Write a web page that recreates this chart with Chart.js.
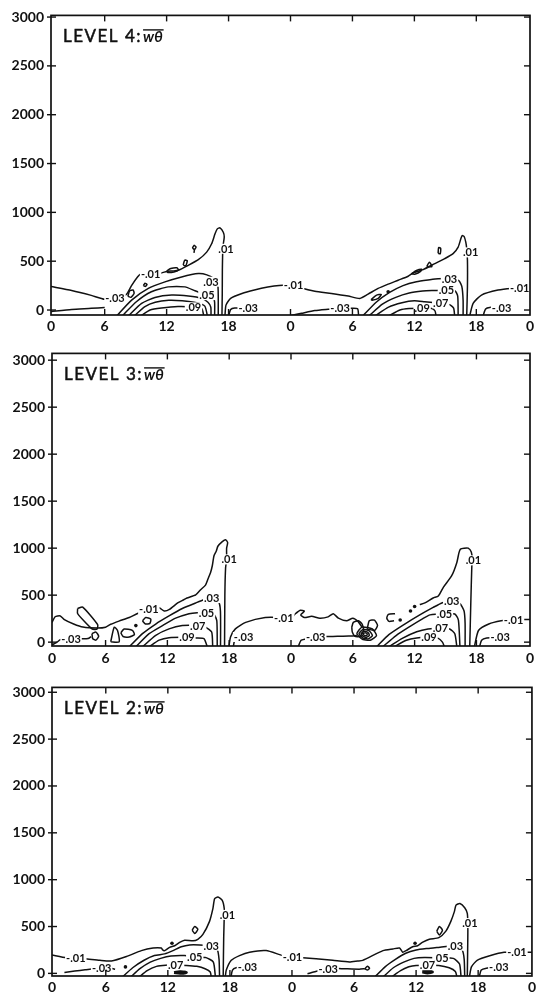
<!DOCTYPE html>
<html><head><meta charset="utf-8">
<script src="https://cdn.jsdelivr.net/npm/chart.js@4.4.1/dist/chart.umd.min.js"></script>
<style>
html,body{margin:0;padding:0;background:#fff;}
body{position:relative;width:539px;height:992px;overflow:hidden;}
canvas{position:absolute;left:0;}
</style></head><body>
<canvas id="lv4" width="539" height="338" style="top:0px"></canvas>
<canvas id="lv3" width="539" height="334" style="top:338px"></canvas>
<canvas id="lv2" width="539" height="320" style="top:672px"></canvas>
<script>
// ---------- axis ticks ----------
const xTickValues = [0.8, 6, 12, 18, 24, 30, 36, 42, 47.2];
const xTickLabels = ['0','6','12','18','0','6','12','18','0'];
const yTickValues = [0, 500, 1000, 1500, 2000, 2500, 3000];

// ---------- LEVEL 4 contours [hour, metres] ----------
const level4Lines = [
 [[0.8,-17],[2.8,6],[4.7,17],[6.0,27]],
 [[0.8,240],[2.8,200],[4.7,150],[6.0,110],[7.0,122],[8.1,160],[8.6,250],[9.2,340],[9.5,368],[10.5,375],[11.5,380],[12.0,395],[12.6,400],[13.13,407],[14.1,458],[15.07,515],[15.88,593],[16.36,678],[16.69,780],[16.91,831],[17.17,841],[17.49,797],[17.58,746],[17.45,644],[17.4,407],[17.39,170],[17.36,-60]],
 [[7.16,-60],[8.61,102],[10.23,221],[11.84,288],[13.45,339],[15.07,373],[15.9,360],[16.6,320],[16.95,260],[17.0,150],[17.0,-60]],
 [[7.71,-60],[9.07,85],[10.52,187],[12.16,237],[13.78,237],[14.75,197],[15.9,153],[16.5,130],[16.65,80],[16.65,-60]],
 [[8.29,-60],[9.58,68],[10.87,129],[12.49,153],[14.1,143],[15.4,119],[16.0,80],[16.28,30],[16.3,-60]],
 [[8.87,-60],[9.9,35],[10.9,80],[12.2,100],[13.5,95],[14.9,75],[15.7,40],[15.95,-60]],
 [[9.5,-60],[10.4,0],[11.5,20],[13.1,35],[14.6,30],[15.4,15],[15.6,-60]],
 [[17.65,-60],[17.75,50],[18.2,120],[19.3,170],[20.5,205],[21.8,235],[22.9,252],[24.3,258],[25.07,225],[26.36,193],[27.97,170],[29.59,143],[30.72,119],[31.52,163],[32.49,221],[33.46,265],[34.43,305],[35.4,346],[35.88,380],[36.85,414],[37.98,475],[38.94,526],[39.75,577],[40.24,644],[40.5,729],[40.63,763],[40.82,753],[40.98,695],[41.07,627],[41.14,509],[41.14,237],[41.07,-60]],
 [[18.0,-60],[18.2,5],[18.6,20],[19.9,17]],
 [[23.9,-60],[25.07,-34],[26.36,-6],[27.65,7],[28.8,17],[29.9,17],[30.5,12],[30.6,-60]],
 [[31.0,-60],[32.3,80],[33.6,180],[34.9,250],[36.2,290],[37.5,310],[38.3,320],[39.4,322],[40.3,300],[40.6,240],[40.72,100],[40.72,-60]],
 [[31.6,-60],[32.9,60],[34.2,130],[35.5,175],[36.8,195],[37.7,200],[39.1,203],[39.95,195],[40.2,140],[40.24,-60]],
 [[32.2,-60],[33.5,30],[34.8,75],[36.0,95],[37.0,85],[38.55,68],[39.4,55],[39.8,20],[39.9,-60]],
 [[33.5,-60],[34.6,0],[35.5,15],[36.75,17],[37.7,15],[38.0,-10],[38.1,-60]],
 [[41.36,-60],[41.69,68],[42.5,153],[44.1,204],[45.4,221],[46.2,221],[47.3,221]],
 [[42.65,-60],[42.9,10],[43.3,27],[44.45,22]],
 [[12.0,400],[12.4,425],[13.0,432],[13.15,410],[12.7,390],[12.1,385],[12.0,400]],
 [[13.6,460],[13.75,510],[14.0,505],[13.85,452],[13.6,460]],
 [[14.5,635],[14.65,662],[14.85,645],[14.7,620],[14.5,635]],
 [[14.7,620],[14.65,585]],
 [[9.75,250],[9.9,275],[10.1,262],[9.95,242],[9.75,250]],
 [[8.25,140],[8.4,195],[8.75,205],[8.85,170],[8.55,130],[8.25,140]],
 [[35.7,370],[36.2,405],[36.7,418],[36.6,395],[36.1,368],[35.7,370]],
 [[37.2,445],[37.45,490],[37.7,445],[37.2,445]],
 [[38.3,580],[38.35,640],[38.55,630],[38.5,575],[38.3,580]],
 [[31.8,105],[32.3,150],[32.8,160],[32.5,120],[31.9,100],[31.8,105]]
];
const level4Dots = [[33.46,187]];
const level4Labels = [
 [7.0,120,'-.03'],[10.45,373,'-.01'],[17.75,627,'.01'],[16.3,290,'.03'],[15.9,153,'.05'],[14.6,27,'.09'],
 [19.9,17,'-.03'],[24.3,258,'-.01'],[28.8,17,'-.03'],[39.4,322,'.03'],[39.1,203,'.05'],[38.55,68,'.07'],
 [36.75,17,'.09'],[41.45,590,'.01'],[46.2,221,'-.01'],[44.45,20,'-.03']
];

// ---------- LEVEL 3 contours ----------
const level3Lines = [
 [[0.8,210],[1.1,270],[1.6,279],[2.0,240],[2.9,193],[3.8,160],[5.2,150],[6.0,159],[6.5,190],[7.3,224],[8.3,262],[9.1,305],[10.2,345],[11.2,365],[11.7,331],[12.2,348],[13.0,417],[13.6,451],[13.9,469],[14.75,503],[15.2,555],[15.7,607],[15.95,675],[16.2,744],[16.36,813],[16.52,917],[16.75,969],[16.9,1020],[17.33,1070],[17.65,1090],[17.85,1060],[17.75,1000],[17.75,880],[17.65,790],[17.58,500],[17.55,-50]],
 [[0.8,-30],[1.3,0],[1.6,25],[2.65,38],[3.8,35],[4.3,38],[4.6,60]],
 [[8.3,-50],[9.58,90],[10.87,193],[12.16,279],[13.45,358],[14.75,417],[15.55,451],[16.3,469],[16.95,435],[17.15,331],[17.16,-50]],
 [[8.94,-50],[10.23,90],[11.52,176],[12.8,255],[14.1,303],[14.9,314],[15.8,314],[16.52,296],[16.8,227],[16.84,-50]],
 [[9.58,-50],[10.87,72],[12.16,141],[13.45,176],[14.95,176],[15.7,159],[16.3,107],[16.4,-50]],
 [[10.23,-50],[11.2,21],[12.16,48],[13.9,52],[14.75,45],[15.55,38],[15.88,-50]],
 [[17.97,-50],[18.13,55],[18.6,141],[19.6,210],[21.5,262],[23.3,262],[24.1,265],[24.4,300],[24.9,340],[25.3,330],[24.95,290],[25.3,262],[26.0,275],[26.8,255],[27.6,269],[28.1,303],[28.6,255],[29.4,227],[30.0,255],[30.5,221],[30.9,159]],
 [[18.4,-50],[18.5,10],[18.7,45],[19.4,55]],
 [[24.7,-50],[25.0,21],[26.5,55],[27.3,60],[28.5,62],[29.6,65],[30.4,70]],
 [[29.9,159],[30.05,210],[30.55,227],[30.9,193],[31.05,124],[30.7,62],[30.2,62],[29.95,107],[29.9,159]],
 [[30.9,30],[30.4,90],[30.9,160],[31.9,140],[32.3,70],[31.7,20],[30.9,30]],
 [[31.0,40],[30.6,90],[31.0,135],[31.6,120],[31.9,70],[31.5,35],[31.0,40]],
 [[31.0,60],[30.8,90],[31.1,115],[31.5,100],[31.6,70],[31.3,50],[31.0,60]],
 [[31.1,70],[31.0,88],[31.2,100],[31.4,88],[31.35,70],[31.1,70]],
 [[31.4,141],[31.6,227],[32.1,234],[32.4,176],[32.1,124],[31.4,141]],
 [[34.1,303],[33.45,296],[33.3,255],[33.5,221],[34.0,227]],
 [[36.5,400],[37.0,417],[37.8,470],[38.3,490],[38.8,586],[39.6,707],[40.1,848],[40.3,950],[40.45,990],[40.8,1000],[41.2,1000],[41.5,960],[41.6,880],[41.55,800],[41.45,400],[41.35,-50]],
 [[32.3,-50],[33.5,80],[35.0,190],[36.5,290],[37.8,370],[38.7,420],[39.6,440],[40.4,410],[40.8,331],[40.9,200],[40.9,-50]],
 [[32.9,-50],[34.2,70],[35.6,170],[36.8,250],[37.5,290],[38.9,303],[39.9,300],[40.25,235],[40.4,-50]],
 [[33.5,-50],[34.8,40],[36.2,110],[37.3,140],[38.5,148],[39.4,140],[39.9,90],[40.1,-50]],
 [[34.0,-50],[35.2,20],[36.2,45],[37.4,55],[38.3,40],[38.7,0],[38.9,-50]],
 [[41.8,-50],[42.2,124],[43.2,193],[44.4,227],[45.5,240],[46.7,240],[47.3,240]],
 [[42.3,-50],[42.5,20],[43.0,45],[44.3,55]],
 [[3.29,358],[3.78,372],[5.23,186],[5.16,138],[4.68,141],[3.29,303],[3.29,358]],
 [[4.68,90],[5.07,107],[5.33,62],[5.07,21],[4.75,38],[4.68,90]],
 [[6.5,4],[6.84,159],[7.16,124],[7.32,4],[6.5,4]],
 [[7.48,100],[7.8,140],[8.6,125],[8.8,80],[8.3,55],[7.7,60],[7.48,100]],
 [[9.58,227],[9.9,262],[10.39,245],[10.3,200],[9.87,193],[9.58,227]]
];
const level3Dots = [[8.94,176],[34.6,235],[35.6,331],[36.0,380]];
const level3Labels = [
 [10.2,350,'-.01'],[18.0,880,'.01'],[16.3,469,'.03'],[15.8,314,'.05'],[14.95,176,'.07'],[13.9,50,'.09'],
 [2.65,38,'-.03'],[19.4,55,'-.03'],[23.3,262,'-.01'],[26.4,55,'-.03'],[39.6,440,'.03'],[38.9,303,'.05'],
 [38.5,148,'.07'],[37.4,55,'.09'],[41.7,870,'.01'],[45.6,240,'-.01'],[44.3,55,'-.03']
];

// ---------- LEVEL 2 contours ----------
const level2Lines = [
 [[0.8,195],[2.2,166],[3.1,162],[3.97,156],[5.42,139],[6.55,132],[8.0,180],[9.44,243],[10.57,271],[11.37,271],[11.5,250],[11.69,243],[12.17,278],[12.66,295],[13.14,330],[13.62,354],[14.43,347],[14.9,364],[15.39,416],[16.03,555],[16.36,693],[16.52,797],[16.84,815],[17.26,780],[17.45,693],[17.45,600],[17.4,382],[17.35,-40]],
 [[7.6,-40],[8.6,60],[9.7,140],[10.7,190],[11.69,208],[12.5,243],[13.3,284],[14.1,304],[15.07,304],[16.2,295],[16.75,265],[16.95,150],[17.0,-40]],
 [[8.4,-40],[9.3,50],[10.3,120],[11.3,160],[12.3,185],[13.6,190],[14.6,173],[15.7,168],[16.4,120],[16.6,-40]],
 [[9.2,-40],[10.0,30],[10.9,75],[11.8,88],[12.75,87],[13.8,85],[14.8,75],[15.6,50],[16.1,15],[16.2,-40]],
 [[2.0,10],[3.0,25],[4.0,38],[4.8,50],[5.6,55],[6.5,55],[6.9,45]],
 [[17.55,-40],[17.65,35],[18.13,139],[18.93,190],[19.9,226],[21.5,243],[23.1,190],[24.05,175],[25.05,166],[26.33,156],[27.94,139],[29.55,121],[30.35,132],[30.84,139],[32.8,243],[33.76,261],[34.4,271],[34.7,226],[35.03,243],[35.67,284],[36.15,295],[36.6,330],[37.28,364],[38.2,382],[38.88,451],[39.36,555],[39.7,659],[39.86,728],[40.24,745],[40.7,700],[40.95,640],[41.0,537],[41.0,382],[40.95,-40]],
 [[18.1,-40],[18.25,35],[18.6,60],[19.7,69]],
 [[25.5,-5],[26.3,20],[27.5,52],[28.8,50],[30.5,45],[31.05,50]],
 [[31.05,50],[31.3,75],[31.5,55],[31.3,35],[31.05,50]],
 [[32.0,-40],[33.0,70],[34.0,150],[35.0,215],[36.0,250],[37.0,265],[38.0,275],[39.8,295],[40.45,250],[40.65,150],[40.7,-40]],
 [[32.8,-40],[33.8,60],[34.8,120],[35.8,160],[36.8,170],[38.4,166],[39.6,160],[40.2,100],[40.35,-40]],
 [[33.6,-40],[34.5,30],[35.3,70],[36.0,85],[37.1,87],[38.2,85],[39.2,60],[39.8,20],[39.95,-40]],
 [[41.15,-40],[41.35,69],[41.9,139],[43.2,190],[44.5,225],[45.75,226],[46.9,226],[47.3,226]],
 [[42.1,-40],[42.3,35],[42.8,55],[44.0,69]],
 [[14.35,460],[14.6,500],[14.9,470],[14.6,425],[14.35,460]],
 [[38.0,450],[38.25,500],[38.55,460],[38.25,410],[38.0,450]]
];
const level2Heavy = [
 [[12.6,8],[13.2,20],[13.8,10],[13.2,0],[12.6,8]],
 [[36.6,15],[37.1,30],[37.6,15],[37.1,3],[36.6,15]]
];
const level2Dots = [[12.4,322],[35.9,322],[7.9,69]];
const level2Labels = [
 [3.1,162,'-.01'],[5.6,55,'-.03'],[17.75,624,'.01'],[16.2,295,'.03'],[14.6,173,'.05'],[12.75,87,'.07'],
 [19.7,69,'-.03'],[24.05,175,'-.01'],[27.5,52,'-.03'],[39.8,295,'.03'],[38.4,166,'.05'],[37.1,87,'.07'],
 [41.2,537,'.01'],[45.75,226,'-.01'],[44.0,69,'-.03']
];

// ---------- layout ----------
const INK = '#111111';
const FONT = 'Lato, "DejaVu Sans", sans-serif';
const panels = [
 {canvas:'lv4', title:'LEVEL 4:', lines:level4Lines, heavy:[], dots:level4Dots, labels:level4Labels,
  yMin:-51, yMax:3017, plotLeft:51, plotRight:530, plotTop:13, plotBottom:315, xPad:3},
 {canvas:'lv3', title:'LEVEL 3:', lines:level3Lines, heavy:[], dots:level3Dots, labels:level3Labels,
  yMin:-41, yMax:3072, plotLeft:52, plotRight:530, plotTop:7, plotBottom:308, xPad:4},
 {canvas:'lv2', title:'LEVEL 2:', lines:level2Lines, heavy:level2Heavy, dots:level2Dots, labels:level2Labels,
  yMin:-28, yMax:3052, plotLeft:52, plotRight:534, plotTop:8, plotBottom:304, xPad:3}
];

const toXY = pts => pts.map(([x,y]) => ({x, y}));

const decorPlugin = {
  id: 'decor',
  afterDatasetsDraw(chart, args, opts) {
    const {ctx, chartArea: a, scales: {x, y}} = chart;
    ctx.save();
    // contour labels
    ctx.font = 'bold 11px ' + FONT;
    ctx.textAlign = 'center';
    ctx.textBaseline = 'middle';
    opts.labels.forEach(([h, m, t]) => {
      const px = x.getPixelForValue(h), py = y.getPixelForValue(m);
      const w = ctx.measureText(t).width;
      ctx.fillStyle = '#fff';
      ctx.fillRect(px - w/2 - 1, py - 5, w + 2, 10);
      ctx.fillStyle = INK;
      ctx.fillText(t, px, py + 0.5);
    });
    // frame
    ctx.strokeStyle = INK;
    ctx.lineWidth = 1.7;
    ctx.strokeRect(a.left, a.top, a.right - a.left, a.bottom - a.top);
    // inward ticks
    ctx.lineWidth = 1.4;
    const seg = (x1, y1, x2, y2) => { ctx.beginPath(); ctx.moveTo(x1, y1); ctx.lineTo(x2, y2); ctx.stroke(); };
    y.ticks.forEach(t => {
      const py = y.getPixelForValue(t.value);
      seg(a.left - 4, py, a.left + 5, py);
      seg(a.right - 6, py, a.right, py);
    });
    x.ticks.forEach(t => {
      if (t.value <= x.min || t.value >= x.max) return;
      const px = x.getPixelForValue(t.value);
      seg(px, a.top, px, a.top + 6);
      seg(px, a.bottom, px, a.bottom - 6);
    });
    // title
    ctx.textAlign = 'left';
    ctx.textBaseline = 'alphabetic';
    ctx.fillStyle = INK;
    const tx = a.left + 12, ty = a.top + 27;
    ctx.font = '17px ' + FONT;
    ctx.letterSpacing = '1.5px';
    ctx.fillText(opts.title, tx, ty);
    ctx.lineWidth = 0.5;
    ctx.strokeText(opts.title, tx, ty);
    const w1 = ctx.measureText(opts.title).width;
    ctx.letterSpacing = '0px';
    ctx.font = 'bold italic 15px ' + FONT;
    const sub = 'w\u03B8';
    const x2 = tx + w1 + 1;
    ctx.fillText(sub, x2, ty);
    const w2 = ctx.measureText(sub).width;
    ctx.lineWidth = 1.4;
    seg(x2, ty - 12.5, x2 + w2 + 1, ty - 12.5);
    ctx.restore();
  }
};

panels.forEach(p => {
  const cv = document.getElementById(p.canvas);
  const datasets = [];
  p.lines.forEach(l => datasets.push({data: toXY(l), showLine: true, borderColor: INK, borderWidth: 1.5,
    pointRadius: 0, tension: 0.2, fill: false}));
  p.heavy.forEach(l => datasets.push({data: toXY(l), showLine: true, borderColor: INK, borderWidth: 2.8,
    backgroundColor: INK, pointRadius: 0, tension: 0.3, fill: false}));
  datasets.push({data: toXY(p.dots), showLine: false, pointRadius: 1.8, pointBackgroundColor: INK,
    pointBorderWidth: 0, borderColor: INK});
  new Chart(cv, {
    type: 'scatter',
    data: {datasets},
    plugins: [decorPlugin],
    options: {
      responsive: false, animation: false, events: [],
      layout: {autoPadding: false, padding: {left: 0, right: cv.width - p.plotRight, top: p.plotTop, bottom: 0}},
      plugins: {legend: {display: false}, tooltip: {enabled: false},
        decor: {labels: p.labels, title: p.title}},
      scales: {
        x: {type: 'linear', min: xTickValues[0], max: xTickValues[xTickValues.length - 1],
          afterBuildTicks: s => { s.ticks = xTickValues.map(v => ({value: v})); },
          afterFit: s => { s.height = cv.height - p.plotBottom; },
          grid: {display: false, drawTicks: false}, border: {display: false},
          ticks: {callback: (v, i) => xTickLabels[i], font: {family: FONT, size: 14, weight: 'bold'}, color: INK,
            padding: p.xPad, maxRotation: 0, autoSkip: false}},
        y: {type: 'linear', min: p.yMin, max: p.yMax,
          afterBuildTicks: s => { s.ticks = yTickValues.map(v => ({value: v})); },
          afterFit: s => { s.width = p.plotLeft; },
          grid: {display: false, drawTicks: false}, border: {display: false},
          ticks: {callback: v => String(v), font: {family: FONT, size: 14, weight: 'bold'}, color: INK, padding: 7, autoSkip: false}}
      }
    }
  });
});
</script></body></html>
